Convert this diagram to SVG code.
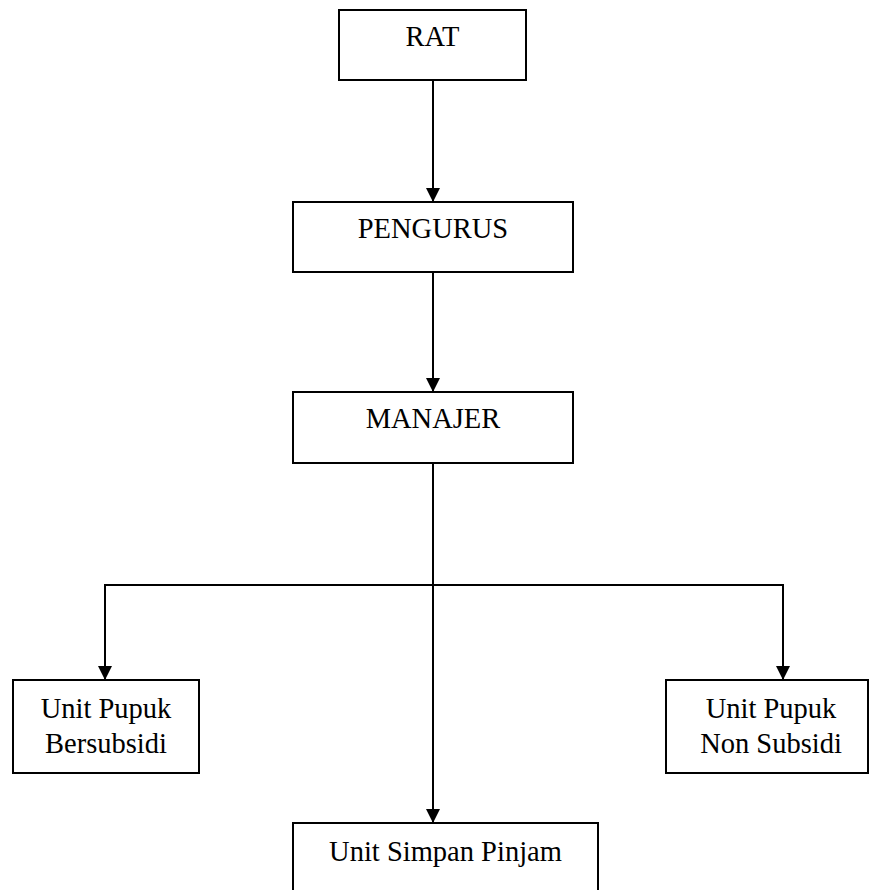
<svg xmlns="http://www.w3.org/2000/svg" width="869" height="890" viewBox="0 0 869 890">
<style>
.box{fill:#fff;stroke:#000;stroke-width:2}
.lbl{font-family:"Liberation Serif","Times New Roman",serif;font-size:28.5px;fill:#000;text-anchor:middle}
.con{fill:none;stroke:#000;stroke-width:2}
</style>
<defs>
<marker id="arr" markerUnits="userSpaceOnUse" markerWidth="14" markerHeight="14" refX="14" refY="7" orient="auto" viewBox="0 0 14 14">
<path d="M0,0 L14,7 L0,14 z" fill="#000"/>
</marker>
</defs>
<rect width="869" height="890" fill="#fff"/>
<g id="connectors">
<line class="con" x1="433" y1="80" x2="433" y2="202" marker-end="url(#arr)"/>
<line class="con" x1="433" y1="272" x2="433" y2="392" marker-end="url(#arr)"/>
<line class="con" x1="433" y1="463" x2="433" y2="823" marker-end="url(#arr)"/>
<polyline class="con" points="105,680 105,585 783,585 783,680"/>
<line class="con" x1="105" y1="585" x2="105" y2="680" marker-end="url(#arr)"/>
<line class="con" x1="783" y1="585" x2="783" y2="680" marker-end="url(#arr)"/>
</g>
<g id="rat">
<rect class="box" x="339" y="10" width="187" height="70"/>
<text class="lbl" x="432.5" y="46">RAT</text>
</g>
<g id="pengurus">
<rect class="box" x="293" y="202" width="280" height="70"/>
<text class="lbl" x="433" y="238">PENGURUS</text>
</g>
<g id="manajer">
<rect class="box" x="293" y="392" width="280" height="71"/>
<text class="lbl" x="433" y="428">MANAJER</text>
</g>
<g id="unit-bersubsidi">
<rect class="box" x="13" y="680" width="186" height="93"/>
<text class="lbl" x="106" y="718">Unit Pupuk</text>
<text class="lbl" x="106" y="753">Bersubsidi</text>
</g>
<g id="unit-non-subsidi">
<rect class="box" x="666" y="680" width="202" height="93"/>
<text class="lbl" x="771" y="718">Unit Pupuk</text>
<text class="lbl" x="771" y="753">Non Subsidi</text>
</g>
<g id="unit-simpan-pinjam">
<rect class="box" x="293" y="823" width="305" height="80"/>
<text class="lbl" x="445.5" y="861">Unit Simpan Pinjam</text>
</g>
</svg>
